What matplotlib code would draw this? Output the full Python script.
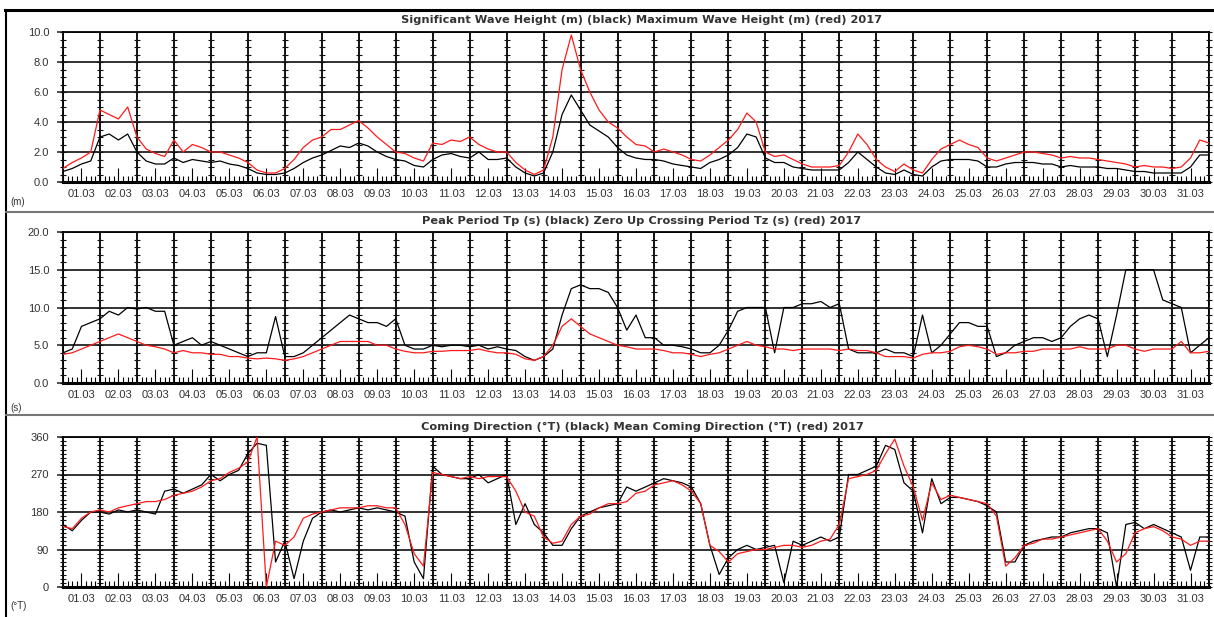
import numpy as np
import matplotlib
matplotlib.use("Agg")
import matplotlib.pyplot as plt
from matplotlib.lines import Line2D

plt.rcParams["font.family"] = ["Liberation Sans", "DejaVu Sans"]

# 6-hourly values, 1 March 00:00 .. 1 April 00:00
hs = [0.7, 0.9, 1.2, 1.4, 3.0, 3.2, 2.8, 3.2, 2.0, 1.4, 1.2, 1.2, 1.6, 1.3, 1.5, 1.4,
      1.3, 1.4, 1.2, 1.1, 0.9, 0.6, 0.5, 0.5, 0.6, 0.9, 1.3, 1.6, 1.8, 2.1, 2.4, 2.3,
      2.6, 2.4, 2.0, 1.7, 1.5, 1.4, 1.1, 1.0, 1.5, 1.8, 1.9, 1.7, 1.6, 2.0, 1.5, 1.5,
      1.6, 1.0, 0.6, 0.4, 0.6, 2.0, 4.5, 5.8, 4.8, 3.8, 3.4, 3.0, 2.3, 1.8, 1.6, 1.5,
      1.5, 1.4, 1.2, 1.1, 1.0, 0.9, 1.3, 1.5, 1.8, 2.3, 3.2, 3.0, 1.6, 1.3, 1.3, 1.0,
      0.9, 0.8, 0.8, 0.8, 0.8, 1.3, 2.0, 1.5, 1.0, 0.6, 0.5, 0.8, 0.5, 0.4, 1.0, 1.4,
      1.5, 1.5, 1.5, 1.4, 1.0, 1.0, 1.2, 1.3, 1.3, 1.3, 1.2, 1.2, 1.0, 1.1, 1.0, 1.0,
      1.0, 0.9, 0.9, 0.8, 0.7, 0.7, 0.6, 0.6, 0.6, 0.6, 1.0, 1.8, 1.8]
hmax = [0.9, 1.3, 1.6, 2.0, 4.8, 4.5, 4.2, 5.0, 3.0, 2.2, 1.9, 1.7, 2.8, 2.0, 2.5, 2.3,
        2.0, 2.0, 1.8, 1.6, 1.3, 0.8, 0.6, 0.6, 0.9, 1.5, 2.3, 2.8, 3.0, 3.5, 3.5, 3.8,
        4.1, 3.6, 3.0, 2.5, 2.0, 1.9, 1.6, 1.4, 2.6, 2.5, 2.8, 2.7, 3.0, 2.5, 2.2, 2.0,
        2.0, 1.3, 0.8, 0.5, 0.8, 3.0, 7.5, 9.8, 7.5, 6.0, 4.8, 4.0, 3.6, 3.0, 2.5, 2.4,
        2.0, 2.2, 2.0, 1.8, 1.5, 1.4, 1.8, 2.3, 2.8, 3.5, 4.6, 4.0, 2.0, 1.7, 1.8, 1.5,
        1.2, 1.0, 1.0, 1.0, 1.1, 2.0, 3.2, 2.5, 1.5, 1.0, 0.7, 1.2, 0.8, 0.6, 1.5, 2.2,
        2.5, 2.8, 2.5, 2.3, 1.6, 1.4, 1.6, 1.8, 2.0, 2.0, 1.9, 1.8, 1.6, 1.7, 1.6, 1.6,
        1.5, 1.4, 1.3, 1.2, 1.0, 1.1, 1.0, 1.0, 0.9, 1.0, 1.6, 2.8, 2.6]

tp = [4.0, 4.5, 7.5, 8.0, 8.5, 9.5, 9.0, 10.0, 9.8, 10.0, 9.5, 9.5, 5.0, 5.5, 6.0, 5.0,
      5.5, 5.0, 4.5, 4.0, 3.5, 4.0, 4.0, 8.8, 3.5, 3.5, 4.0, 5.0, 6.0, 7.0, 8.0, 9.0,
      8.5, 8.0, 8.0, 7.5, 8.5, 5.0, 4.5, 4.5, 5.0, 4.8, 5.0, 5.0, 4.8, 5.0, 4.5, 4.8,
      4.5, 4.3, 3.5, 3.0, 3.5, 4.5, 9.0, 12.5, 13.0, 12.5, 12.5, 12.0, 10.0, 7.0, 9.0, 6.0,
      6.0, 5.0, 5.0, 4.8, 4.5, 4.0, 4.0, 5.0, 7.0, 9.5, 10.0, 10.0, 10.0, 4.0, 10.0, 10.0,
      10.5, 10.5, 10.8, 10.0, 10.5, 4.5, 4.0, 4.0, 4.0, 4.5, 4.0, 4.0, 3.5, 9.0, 4.0, 5.0,
      6.5, 8.0, 8.0, 7.5, 7.5, 3.5, 4.0, 5.0, 5.5, 6.0, 6.0, 5.5, 6.0, 7.5, 8.5, 9.0,
      8.5, 3.5, 9.0, 15.0, 15.0, 15.0, 15.0, 11.0, 10.5, 10.0, 4.0, 5.0, 6.0]
tz = [3.8, 4.0, 4.5, 5.0, 5.5, 6.0, 6.5, 6.0, 5.5, 5.0, 4.8, 4.5, 4.0, 4.3, 4.0, 4.0,
      3.8, 3.8, 3.5, 3.5, 3.3, 3.2, 3.3, 3.2, 3.0, 3.2, 3.5, 4.0, 4.5, 5.0, 5.5, 5.5,
      5.5, 5.5, 5.0, 5.0, 4.5, 4.2, 4.0, 4.0, 4.2, 4.2, 4.3, 4.3, 4.3, 4.5, 4.2, 4.0,
      4.0, 3.8, 3.2, 3.0, 3.5, 5.0, 7.5, 8.5, 7.5, 6.5, 6.0, 5.5, 5.0, 4.8, 4.5, 4.5,
      4.5, 4.3, 4.0, 4.0, 3.8, 3.5, 3.8, 4.0, 4.5, 5.0, 5.5, 5.0, 4.8, 4.5, 4.5, 4.3,
      4.5, 4.5, 4.5, 4.5, 4.3, 4.5, 4.3, 4.3, 4.0, 3.5, 3.5, 3.5, 3.3, 3.8, 4.0, 4.0,
      4.2, 4.8, 5.0, 4.8, 4.5, 3.8, 4.0, 4.0, 4.2, 4.2, 4.5, 4.5, 4.5, 4.5, 4.8, 4.5,
      4.5, 4.5, 5.0, 5.0, 4.5, 4.2, 4.5, 4.5, 4.5, 5.5, 4.0, 4.0, 4.2]

dirp = [150, 135, 160, 180, 180, 175, 185, 180, 185, 180, 175, 230, 235, 225, 235, 245,
        270, 255, 270, 280, 320, 345, 340, 60, 110, 20, 110, 165, 180, 185, 180, 185,
        190, 185, 190, 185, 180, 170, 60, 20, 290, 270, 265, 260, 260, 270, 250, 260,
        270, 150, 200, 150, 130, 100, 100, 140, 170, 180, 190, 195, 200, 240, 230, 240,
        250, 260, 255, 250, 240, 200, 100, 30, 70, 90, 100, 90, 95, 100, 10, 110,
        100, 110, 120, 110, 120, 270, 270, 280, 290, 340, 330, 250, 230, 130, 260, 200,
        215, 215, 210, 205, 195, 180, 60, 60, 100, 110, 115, 120, 120, 130, 135, 140,
        140, 130, 0, 150, 155, 140, 150, 140, 130, 120, 40, 120, 120]
dirm = [145, 140, 165, 180, 185, 180, 190, 195, 200, 205, 205, 210, 220, 225, 230, 240,
        255, 260, 275, 285, 300, 360, 0, 110, 100, 120, 165, 175, 180, 185, 190, 190,
        190, 195, 195, 190, 190, 150, 80, 50, 275, 270, 265, 260, 265, 260, 265, 265,
        265, 230, 180, 170, 120, 105, 110, 150, 170, 175, 190, 200, 200, 205, 225, 230,
        245, 250, 255, 245, 230, 200, 100, 85, 60, 80, 85, 90, 90, 95, 100, 100,
        95, 100, 110, 115, 150, 260, 265, 270, 280, 320, 355, 290, 240, 160, 250, 210,
        220, 215, 210, 205, 200, 170, 50, 70, 100, 105, 115, 115, 120, 125, 130, 135,
        140, 110, 60, 80, 130, 140, 145, 135, 120, 115, 100, 110, 110]

day_labels = ["%02d.03" % d for d in range(1, 32)]

titles = ["Significant Wave Height (m) (black) Maximum Wave Height (m) (red) 2017",
          "Peak Period Tp (s) (black) Zero Up Crossing Period Tz (s) (red) 2017",
          "Coming Direction (\u00b0T) (black) Mean Coming Direction (\u00b0T) (red) 2017"]
units = ["(m)", "(s)", "(\u00b0T)"]
ymax = [10, 20, 360]
ystep = [2, 5, 90]
yminor = [0.5, 1, 10]
yfmt = ["%.1f", "%.1f", "%d"]
series = [(hs, hmax), (tp, tz), (dirp, dirm)]

W, H = 1214, 617
fig = plt.figure(figsize=(W / 100, H / 100), dpi=100)

# panel boxes in pixels: (top, bottom) of plot area
boxes = [(32, 182), (232, 383), (437, 587)]
title_y = [20, 221, 427]
unit_y = [202, 408, 606]
left, right = 63, 1209

for i in range(3):
    top, bot = boxes[i]
    ax = fig.add_axes([left / W, 1 - bot / H, (right - left) / W, (bot - top) / H])
    black, red = series[i]
    t = 1 + np.arange(len(black)) / 4
    ax.plot(t, black, color="black", lw=0.9, zorder=4)
    ax.plot(t, red, color="#ff1a1a", lw=0.9, zorder=5)

    ax.set_xlim(1, 32)
    ax.set_ylim(0, ymax[i])

    # grid
    for d in range(1, 33):
        ax.axvline(d, color="black", lw=1.3, zorder=2)
    for yv in np.arange(ystep[i], ymax[i] + 0.01, ystep[i]):
        ax.axhline(yv, color="#222222", lw=1.3, zorder=2)
    # small crosses on the day lines
    mv = np.arange(0, ymax[i] + 0.001, yminor[i])
    dd, yy = np.meshgrid(np.arange(1, 33), mv)
    ax.plot(dd.ravel(), yy.ravel(), ls="none", marker="_", ms=5, mew=0.8,
            color="#111111", zorder=3, clip_on=False)

    ax.set_yticks(np.arange(0, ymax[i] + 0.01, ystep[i]))
    ax.set_yticklabels([yfmt[i] % v for v in np.arange(0, ymax[i] + 0.01, ystep[i])])
    ax.tick_params(axis="y", direction="out", length=4, width=1.2, pad=6,
                   labelsize=8, colors="#333333")
    ax.set_xticks(np.arange(1.5, 32, 1))
    ax.set_xticklabels(day_labels)
    ax.set_xticks(np.arange(1, 32.01, 0.125), minor=True)
    ax.tick_params(axis="x", which="major", direction="in", length=10, width=0.8,
                   pad=5, labelsize=8, labelcolor="#333333")
    ax.tick_params(axis="x", which="minor", direction="in", length=4, width=0.8)

    for s in ["top", "left", "right"]:
        ax.spines[s].set_linewidth(1.3)
    ax.spines["bottom"].set_linewidth(2.2)

    fig.text(642 / W, 1 - title_y[i] / H, titles[i], ha="center", va="center",
             fontsize=8.2, fontweight="bold", color="#333333", family="DejaVu Sans")
    fig.text(10 / W, 1 - unit_y[i] / H, units[i], ha="left", va="center",
             fontsize=7, color="#333333")

# panel frames
fig.add_artist(Line2D([5 / W, 1], [1 - 10 / H, 1 - 10 / H], color="black", lw=2.2))
fig.add_artist(Line2D([6 / W, 6 / W], [0, 1 - 10 / H], color="black", lw=1.5))
for yp in [212, 415]:
    fig.add_artist(Line2D([6 / W, 1], [1 - yp / H, 1 - yp / H], color="#777777", lw=1.5))

fig.savefig("out.png", dpi=100, facecolor="white")
